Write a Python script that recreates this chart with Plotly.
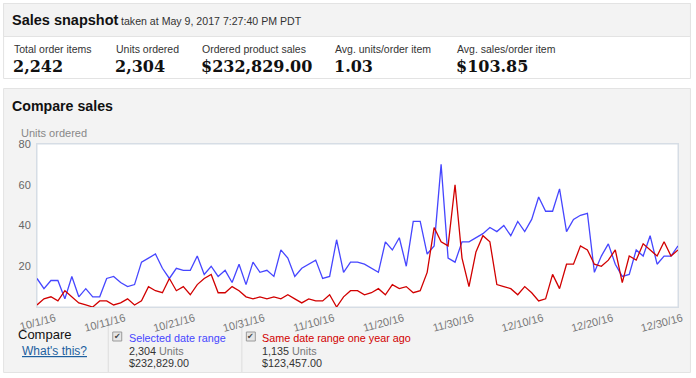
import pandas as pd
import plotly.graph_objects as go

# ---- data ----
start_date = "2016-10-01"
n_days = 93
dates = [d.strftime("%Y-%m-%d") for d in pd.date_range(start_date, periods=n_days, freq="D")]

selected_units = [14, 9, 13, 13, 4, 15, 5, 9, 5, 5, 14, 15, 12, 10, 11, 22, 24, 26, 19, 14, 19, 18, 18, 25,
                  16, 20, 15, 18, 12, 21, 11, 22, 17, 18, 15, 28, 24, 15, 19, 21, 23, 14, 15, 33, 17, 22, 22,
                  21, 19, 17, 32, 28, 34, 20, 42, 42, 26, 30, 70, 24, 22, 32, 32, 34, 36, 39, 37, 40, 35, 42,
                  37, 43, 54, 47, 47, 58, 37, 43, 45, 46, 17, 25, 31, 21, 15, 16, 28, 25, 35, 21, 25, 25, 30]
last_year_units = [1, 4, 5, 3, 8, 5, 2, 1, 0, 3, 3, 1, 2, 4, 1, 3, 10, 8, 7, 14, 8, 10, 6, 11,
                   14, 16, 7, 7, 10, 8, 5, 4, 5, 4, 5, 4, 6, 4, 2, 4, 3, 3, 6, 0, 5, 8, 8,
                   6, 7, 9, 6, 11, 9, 10, 7, 8, 17, 39, 32, 30, 60, 24, 10, 27, 35, 32, 11, 10, 9, 6,
                   10, 7, 3, 4, 16, 9, 21, 21, 30, 28, 21, 20, 23, 28, 12, 25, 23, 31, 28, 25, 32, 25, 28]

x_tick_vals = ["2016-10-01", "2016-10-11", "2016-10-21", "2016-10-31", "2016-11-10",
               "2016-11-20", "2016-11-30", "2016-12-10", "2016-12-20", "2016-12-30"]
x_tick_text = ["10/1/16", "10/11/16", "10/21/16", "10/31/16", "11/10/16",
               "11/20/16", "11/30/16", "12/10/16", "12/20/16", "12/30/16"]
y_tick_vals = [20, 40, 60, 80]

metric_labels = ["Total order items", "Units ordered", "Ordered product sales",
                 "Avg. units/order item", "Avg. sales/order item"]
metric_values = ["2,242", "2,304", "$232,829.00", "1.03", "$103.85"]

series_names = ["Selected date range", "Same date range one year ago"]
series_units = ["2,304", "1,135"]
series_sales = ["$232,829.00", "$123,457.00"]

# ---- geometry (pixels) ----
W, H = 696, 378
L, R, T, B = 37, 680, 144, 307
FONT = "Liberation Sans, Arial, sans-serif"
BLUE = "#4646ff"
RED = "#d10000"


def px(x):
    return (x - L) / (R - L)


def py(y):
    return (B - y) / (B - T)


fig = go.Figure()
fig.add_trace(go.Scatter(x=dates, y=selected_units, mode="lines", name=series_names[0],
                         line=dict(color=BLUE, width=1.3), showlegend=False))
fig.add_trace(go.Scatter(x=dates, y=last_year_units, mode="lines", name=series_names[1],
                         line=dict(color=RED, width=1.3), showlegend=False))

shapes = []


def rect(x0, y0, x1, y1, fill, line="rgba(0,0,0,0)", lw=1):
    shapes.append(dict(type="rect", xref="paper", yref="paper", layer="below",
                       x0=px(x0), x1=px(x1), y0=py(y0), y1=py(y1),
                       fillcolor=fill, line=dict(color=line, width=lw)))


def vline(x, y0, y1, color):
    shapes.append(dict(type="line", xref="paper", yref="paper", layer="below",
                       x0=px(x), x1=px(x), y0=py(y0), y1=py(y1), line=dict(color=color, width=1)))


# top snapshot box
rect(3.5, 3.5, 692.5, 78.5, "#ffffff", "#e3e3e3")
rect(3.5, 3.5, 692.5, 36.5, "#f3f3f3", "#e3e3e3")
# compare panel
rect(3.5, 88.5, 692.5, 372.5, "#f3f3f3", "#e3e3e3")
# plot area
rect(L, T, R, B, "#ffffff", "#d6dde5")
# legend separators
vline(108.5, 318, 372, "#dddddd")
vline(242.5, 318, 372, "#dddddd")
# checkboxes
for cx in (113, 247):
    rect(cx, 332, cx + 9, 341, "#e6e6e6", "#9a9a9a")

annotations = []


def text(x, y, s, size=11, color="#333333", family=FONT, xanchor="left"):
    annotations.append(dict(xref="paper", yref="paper", x=px(x), y=py(y), text=s,
                            showarrow=False, xanchor=xanchor, yanchor="middle",
                            font=dict(size=size, color=color, family=family)))


text(10, 20, "<b>Sales snapshot</b>", 14.5, "#111111")
text(119, 21, "taken at May 9, 2017 7:27:40 PM PDT", 10.6, "#333333")

metric_x = [12, 114, 201, 334, 456]
for mx, lab, val in zip(metric_x, metric_labels, metric_values):
    text(mx, 49, lab, 10.5, "#333333")
    text(mx - 1, 66, "<b>" + val + "</b>", 16, "#111111", "DejaVu Serif, serif")

text(10, 106, "<b>Compare sales</b>", 14.2, "#111111")
text(19, 133, "Units ordered", 11, "#888888")

text(16, 334, "Compare", 13, "#111111")
text(20, 351, "<u>What's this?</u>", 12, "#1d5f9f")

leg_x = [127, 261]
leg_col = [BLUE, RED]
for i in range(2):
    cx = (113, 247)[i]
    text(cx + 4.5, 336.5, "✔", 8, "#444444", "DejaVu Sans", xanchor="center")
    text(leg_x[i], 338, series_names[i], 10.8, leg_col[i])
    text(leg_x[i], 351, series_units[i] + " <span style='color:#777777'>Units</span>", 10.8, "#333333")
    text(leg_x[i], 363, series_sales[i], 10.8, "#333333")

fig.update_layout(
    width=W, height=H, autosize=False,
    margin=dict(l=L, r=W - R, t=T, b=H - B, pad=0),
    paper_bgcolor="#ffffff", plot_bgcolor="#ffffff",
    shapes=shapes, annotations=annotations,
    font=dict(family=FONT, size=11, color="#666666"),
    xaxis=dict(type="date", range=[dates[0], dates[-1]], tickvals=x_tick_vals, ticktext=x_tick_text,
               tickangle=-15, showgrid=False, zeroline=False, showline=True, mirror=True,
               linecolor="#d6dde5", ticks="", tickfont=dict(size=11, color="#777777"),
               ticklabelshift=18),
    yaxis=dict(range=[0, 80], tickvals=y_tick_vals, showgrid=False, zeroline=False,
               showline=True, mirror=True, linecolor="#d6dde5", ticks="",
               tickfont=dict(size=11, color="#666666"), ticklabelstandoff=3),
)

fig.write_html("out.html", config={"displayModeBar": False},
               post_script="document.body.style.margin='0px';document.body.style.overflow='hidden';")
